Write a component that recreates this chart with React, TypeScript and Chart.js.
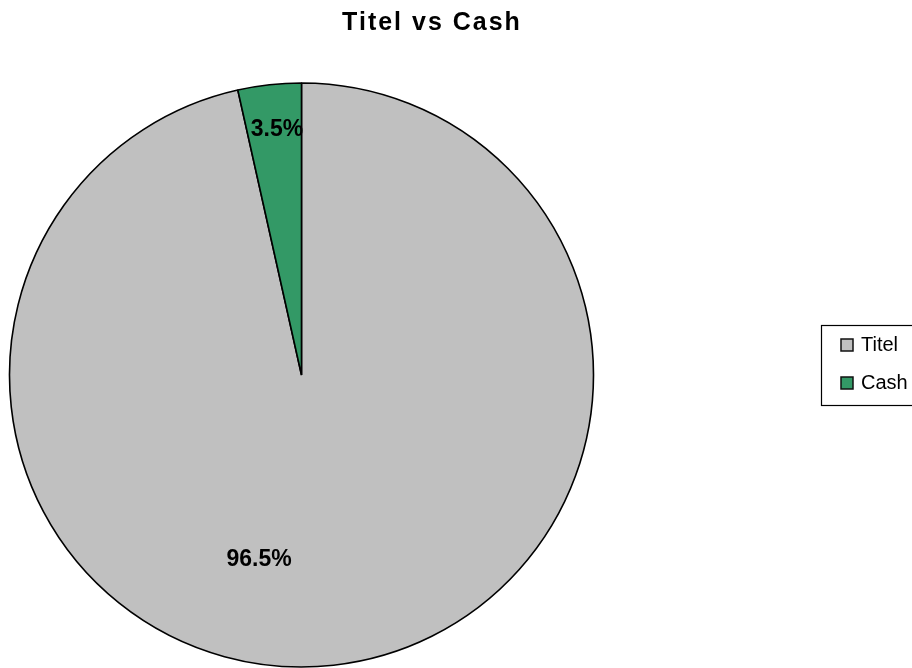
import React, { useEffect, useRef } from "react";
import { Chart, registerables } from "chart.js";

Chart.register(...registerables);

const categories = ["Titel", "Cash"];
const values = [96.5, 3.5];
const labelTexts = ["96.5%", "3.5%"];
const titleText = "Titel vs Cash";
const colors = ["#C0C0C0", "#339966"];

const FONT = "'Liberation Sans', Arial, sans-serif";

const overlayPlugin = {
  id: "overlay",
  afterDraw(chart: any) {
    const ctx = chart.ctx as CanvasRenderingContext2D;
    const meta = chart.getDatasetMeta(0);
    // data labels
    const labelStyle = [
      { ratio: 0.65, offset: (19.2 * Math.PI) / 180 },
      { ratio: 0.846, offset: (0.6 * Math.PI) / 180 },
    ];
    ctx.save();
    ctx.fillStyle = "#000";
    ctx.font = `bold 23px ${FONT}`;
    ctx.textAlign = "center";
    ctx.textBaseline = "middle";
    meta.data.forEach((arc: any, i: number) => {
      const p = arc.getProps(["x", "y", "startAngle", "endAngle", "outerRadius"], true);
      const mid = (p.startAngle + p.endAngle) / 2 + labelStyle[i].offset;
      const r = p.outerRadius * labelStyle[i].ratio;
      ctx.fillText(labelTexts[i], p.x + Math.cos(mid) * r, p.y + Math.sin(mid) * r);
    });
    ctx.restore();

    // title
    ctx.save();
    ctx.fillStyle = "#000";
    ctx.font = `bold 25px ${FONT}`;
    (ctx as any).letterSpacing = "2px";
    ctx.textAlign = "left";
    ctx.textBaseline = "middle";
    const tw = ctx.measureText(titleText).width - 2;
    ctx.fillText(titleText, 431 - tw / 2, 23);
    ctx.restore();

    // legend
    ctx.save();
    ctx.strokeStyle = "#000";
    ctx.lineWidth = 1.2;
    ctx.strokeRect(821.5, 325.5, 100, 80);
    ctx.font = `20px ${FONT}`;
    ctx.textBaseline = "middle";
    ctx.textAlign = "left";
    const rows = [345, 383];
    categories.forEach((c, i) => {
      ctx.fillStyle = colors[i];
      ctx.fillRect(841, rows[i] - 6, 12, 12);
      ctx.lineWidth = 1.5;
      ctx.strokeStyle = "#111";
      ctx.strokeRect(841, rows[i] - 6, 12, 12);
      ctx.fillStyle = "#000";
      ctx.fillText(c, 861, rows[i]);
    });
    ctx.restore();
  },
};

export default function App() {
  const ref = useRef<HTMLCanvasElement>(null);
  useEffect(() => {
    if (!ref.current) return;
    const chart = new Chart(ref.current, {
      type: "pie",
      data: {
        labels: categories,
        datasets: [
          {
            data: values,
            backgroundColor: colors,
            borderColor: "#000",
            borderWidth: 1.6,
            hoverOffset: 0,
          },
        ],
      },
      options: {
        responsive: false,
        animation: false,
        events: [],
        layout: { padding: { left: 8.7, right: 317.7, top: 82.2, bottom: 0.2 } },
        plugins: {
          legend: { display: false },
          title: { display: false },
          tooltip: { enabled: false },
        },
      },
      plugins: [overlayPlugin],
    });
    return () => chart.destroy();
  }, []);
  return (
    <div
      style={{
        position: "fixed",
        left: 0,
        top: 0,
        width: 912,
        height: 668,
        overflow: "hidden",
        background: "#fff",
      }}
    >
      <canvas ref={ref} width={912} height={668} style={{ display: "block" }} />
    </div>
  );
}
